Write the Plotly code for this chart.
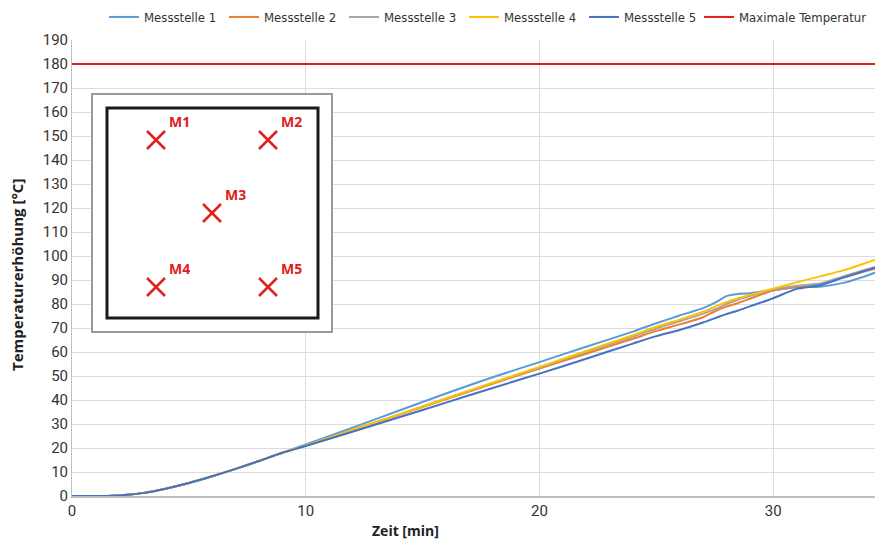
import plotly.graph_objects as go

# ---- data ----
zeit = [0, 1, 1.5, 2, 2.5, 3, 3.5, 4, 5, 6, 7, 8, 9, 10, 12, 14, 16, 18, 20, 22, 24, 25, 26,
        27, 27.6, 28, 28.5, 29, 30, 31, 32, 33, 34, 34.7]
early = [0, 0, 0, 0.2, 0.6, 1.2, 2.0, 3.0, 5.4, 8.2, 11.3, 14.6, 18.0]

messstelle_1 = early + [21.5, 28.5, 35.6, 42.7, 49.5, 55.8, 62.2, 68.5, 72.0, 75.2,
                        78.3, 81.0, 83.3, 84.2, 84.5, 85.8, 87.0, 87.2, 88.8, 91.8, 94.3]
messstelle_2 = early + [21.0, 27.4, 33.8, 40.3, 46.8, 53.1, 59.3, 65.5, 68.8, 71.5,
                        74.5, 77.4, 78.9, 80.4, 82.2, 85.6, 87.2, 88.0, 91.0, 93.8, 95.6]
messstelle_3 = early + [21.2, 27.6, 34.0, 40.6, 47.1, 53.5, 60.0, 66.4, 69.8, 72.8,
                        76.0, 78.2, 80.0, 81.8, 83.3, 86.0, 87.6, 88.5, 91.5, 94.5, 96.3]
messstelle_4 = early + [21.0, 27.5, 34.0, 40.6, 47.2, 53.8, 60.4, 67.0, 70.5, 73.5,
                        76.8, 79.3, 80.8, 82.4, 83.8, 86.4, 89.0, 91.5, 94.0, 97.2, 99.6]
messstelle_5 = early + [20.8, 26.8, 32.8, 38.9, 45.0, 51.0, 57.2, 63.5, 66.6, 69.2,
                        72.3, 74.4, 75.8, 77.3, 79.0, 82.4, 86.3, 87.8, 91.0, 94.0, 96.2]
max_temp = 180

series_names = ["Messstelle 1", "Messstelle 2", "Messstelle 3", "Messstelle 4", "Messstelle 5"]
series_values = [messstelle_1, messstelle_2, messstelle_3, messstelle_4, messstelle_5]
colors = ["#5B9BD5", "#ED7D31", "#A5A5A5", "#FFC000", "#4472C4"]

x_range = [0, 34.7]
y_range = [0, 190]

# page has an 8px body margin
OFF = 8
W, H = 875, 539
L, R, T, B = 64, 0, 32, 51
FONT = "DejaVu Sans Condensed, Liberation Sans Narrow, Roboto, sans-serif"
TICKFONT = "Roboto, sans-serif"

fig = go.Figure()
for name, vals, c in zip(series_names, series_values, colors):
    fig.add_trace(go.Scatter(x=zeit, y=vals, mode="lines", name=name, legend="legend",
                             line=dict(color=c, width=2, shape="spline", smoothing=0.6)))
fig.add_trace(go.Scatter(x=x_range, y=[max_temp, max_temp], mode="lines", legend="legend2",
                         name="Maximale Temperatur", line=dict(color="#E0201B", width=2)))

pw, ph = W - L - R, H - T - B
def px(x): return (x - OFF - L) / pw          # page pixel -> paper x
def py(y): return (OFF + H - B - y) / ph      # page pixel -> paper y

shapes = []
# inset box
shapes.append(dict(type="rect", xref="paper", yref="paper", x0=px(92), x1=px(332), y0=py(332), y1=py(94),
                   line=dict(color="#9a9a9a", width=2), fillcolor="white", layer="above"))
shapes.append(dict(type="rect", xref="paper", yref="paper", x0=px(107), x1=px(318), y0=py(318), y1=py(108),
                   line=dict(color="#1a1a1a", width=3), fillcolor="rgba(0,0,0,0)", layer="above"))
marks = [("M1", 156, 140), ("M2", 268, 140), ("M3", 212, 213), ("M4", 156, 287), ("M5", 268, 287)]
annotations = []
a = 9
for lab, cx, cy in marks:
    shapes.append(dict(type="line", xref="paper", yref="paper", x0=px(cx - a), x1=px(cx + a),
                       y0=py(cy - a), y1=py(cy + a), line=dict(color="#E0201B", width=2.5), layer="above"))
    shapes.append(dict(type="line", xref="paper", yref="paper", x0=px(cx - a), x1=px(cx + a),
                       y0=py(cy + a), y1=py(cy - a), line=dict(color="#E0201B", width=2.5), layer="above"))
    annotations.append(dict(text="<b>%s</b>" % lab, xref="paper", yref="paper", x=px(cx + 23), y=py(cy - 19),
                            showarrow=False, xanchor="center", yanchor="middle",
                            font=dict(family="Open Sans, sans-serif", size=14, color="#E0201B")))

annotations.append(dict(text="<b>Temperaturerhöhung [°C]</b>", xref="paper", yref="paper",
                        x=px(17), y=py(275), textangle=-90, showarrow=False,
                        xanchor="center", yanchor="middle",
                        font=dict(family="Open Sans, sans-serif", size=15, color="#222")))
annotations.append(dict(text="<b>Zeit [min]</b>", xref="paper", yref="paper",
                        x=px(405), y=py(530), showarrow=False, xanchor="center", yanchor="middle",
                        font=dict(family="Open Sans, sans-serif", size=14, color="#222")))

legend_common = dict(orientation="h", xref="container", yref="container",
                     xanchor="left", y=1 - (17 - OFF) / H, yanchor="middle",
                     font=dict(family=FONT, size=13, color="#333"), bgcolor="rgba(0,0,0,0)",
                     itemwidth=30, tracegroupgap=0)

fig.update_layout(
    width=W, height=H, margin=dict(l=L, r=R, t=T, b=B, autoexpand=False),
    paper_bgcolor="white", plot_bgcolor="white",
    font=dict(family=TICKFONT, size=15, color="#333"),
    showlegend=True,
    legend=dict(legend_common, x=(104 - OFF) / W, entrywidth=75, entrywidthmode="pixels"),
    legend2=dict(legend_common, x=(699 - OFF) / W),
    xaxis=dict(range=x_range, dtick=10, showgrid=True, gridcolor="#dcdcdc", gridwidth=1,
               zeroline=False, showline=True, linecolor="#bfbfbf", linewidth=1.5,
               ticks="", tickfont=dict(size=15, family=TICKFONT)),
    yaxis=dict(range=y_range, dtick=10, showgrid=True, gridcolor="#dcdcdc", gridwidth=1,
               zeroline=False, showline=True, linecolor="#bfbfbf", linewidth=1,
               ticks="", tickfont=dict(size=15, family=TICKFONT)),
    shapes=shapes, annotations=annotations,
)

fig.write_html("out.html")
